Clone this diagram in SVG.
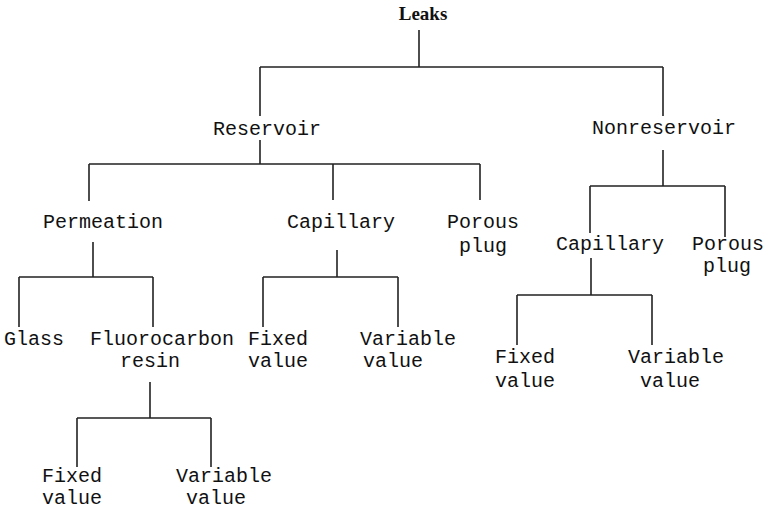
<svg xmlns="http://www.w3.org/2000/svg" width="768" height="511" viewBox="0 0 768 511">
  <style>
    .lbl { font-family: "Liberation Mono", "Courier New", monospace; font-size: 20px; fill: #111; }
    .root { font-family: "Liberation Serif", "Times New Roman", serif; font-size: 19px; font-weight: bold; fill: #111; }
    .edges path { fill: none; stroke: #222; stroke-width: 1.6; }
  </style>
  <rect width="768" height="511" fill="#fff"/>

  <!-- tree connectors -->
  <g class="edges">
    <!-- Leaks -> Reservoir / Nonreservoir -->
    <path d="M419 30 V67 M260 67 H663 M260 67 V116 M663 67 V116"/>
    <!-- Reservoir -> Permeation / Capillary / Porous plug -->
    <path d="M260 140 V164 M89 164 H480 M89 164 V201 M333 164 V200 M480 164 V200"/>
    <!-- Permeation -> Glass / Fluorocarbon resin -->
    <path d="M93 242 V277 M19 277 H153 M19 277 V327 M153 277 V327"/>
    <!-- Capillary -> Fixed / Variable -->
    <path d="M337 250 V277 M263 277 H398 M263 277 V327 M398 277 V327"/>
    <!-- Fluorocarbon resin -> Fixed / Variable -->
    <path d="M150 382 V418 M77 418 H211 M77 418 V467 M211 418 V467"/>
    <!-- Nonreservoir -> Capillary / Porous plug -->
    <path d="M663 150 V186 M590 186 H725 M590 186 V233 M725 186 V237"/>
    <!-- Capillary (nonreservoir) -> Fixed / Variable -->
    <path d="M591 258 V295 M517 295 H652 M517 295 V345 M652 295 V345"/>
  </g>

  <g id="leaks"><text class="root" x="423" y="20" text-anchor="middle">Leaks</text></g>

  <g id="reservoir"><text class="lbl" x="213" y="135">Reservoir</text></g>
  <g id="nonreservoir"><text class="lbl" x="592" y="134">Nonreservoir</text></g>

  <g id="permeation"><text class="lbl" x="43" y="228">Permeation</text></g>
  <g id="capillary-r"><text class="lbl" x="287" y="228">Capillary</text></g>
  <g id="porous-r">
    <text class="lbl" x="447" y="228">Porous</text>
    <text class="lbl" x="459" y="252">plug</text>
  </g>

  <g id="glass"><text class="lbl" x="4" y="345">Glass</text></g>
  <g id="fluorocarbon">
    <text class="lbl" x="90" y="345">Fluorocarbon</text>
    <text class="lbl" x="120" y="367">resin</text>
  </g>
  <g id="fixed-cap-r">
    <text class="lbl" x="248" y="345">Fixed</text>
    <text class="lbl" x="248" y="367">value</text>
  </g>
  <g id="variable-cap-r">
    <text class="lbl" x="360" y="345">Variable</text>
    <text class="lbl" x="363" y="367">value</text>
  </g>

  <g id="fixed-fluoro">
    <text class="lbl" x="42" y="482">Fixed</text>
    <text class="lbl" x="42" y="504">value</text>
  </g>
  <g id="variable-fluoro">
    <text class="lbl" x="176" y="482">Variable</text>
    <text class="lbl" x="186" y="504">value</text>
  </g>

  <g id="capillary-n"><text class="lbl" x="556" y="250">Capillary</text></g>
  <g id="porous-n">
    <text class="lbl" x="692" y="250">Porous</text>
    <text class="lbl" x="703" y="272">plug</text>
  </g>
  <g id="fixed-cap-n">
    <text class="lbl" x="495" y="363">Fixed</text>
    <text class="lbl" x="495" y="387">value</text>
  </g>
  <g id="variable-cap-n">
    <text class="lbl" x="628" y="363">Variable</text>
    <text class="lbl" x="640" y="387">value</text>
  </g>
</svg>
